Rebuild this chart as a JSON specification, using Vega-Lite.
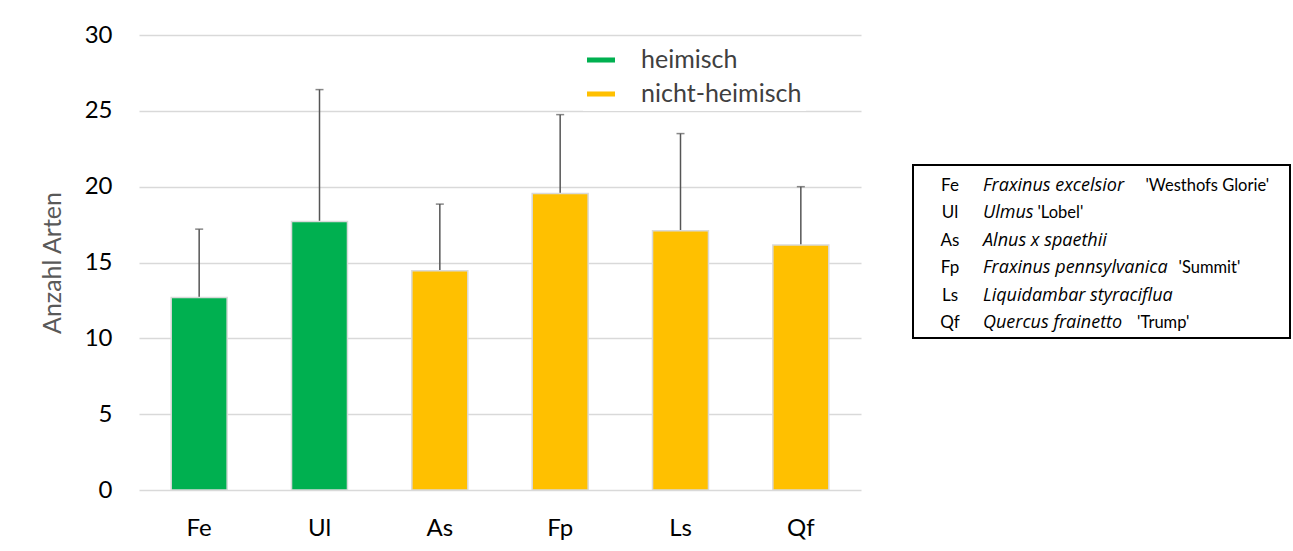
{
  "$schema": "https://vega.github.io/schema/vega-lite/v6.json",
  "padding": {"left": 40, "top": 23, "right": 0, "bottom": 0},
  "autosize": {"type": "pad"},
  "config": {"font": "Lato", "view": {"stroke": null}, "concat": {"spacing": 51}},
  "hconcat": [
    {
      "width": 722,
      "height": 455,
      "data": {"values": [
        {"abbr": "Fe", "value": 12.7, "upper": 17.2, "gruppe": "heimisch"},
        {"abbr": "Ul", "value": 17.7, "upper": 26.4, "gruppe": "heimisch"},
        {"abbr": "As", "value": 14.45, "upper": 18.85, "gruppe": "nicht-heimisch"},
        {"abbr": "Fp", "value": 19.55, "upper": 24.75, "gruppe": "nicht-heimisch"},
        {"abbr": "Ls", "value": 17.1, "upper": 23.5, "gruppe": "nicht-heimisch"},
        {"abbr": "Qf", "value": 16.15, "upper": 20.0, "gruppe": "nicht-heimisch"}
      ]},
      "encoding": {
        "x": {
          "field": "abbr", "type": "nominal", "sort": null,
          "scale": {"paddingInner": 0.535, "paddingOuter": 0.2675},
          "axis": {"title": null, "labelAngle": 0, "labelFontSize": 24, "labelColor": "#000000", "labelPadding": 26, "tickSize": 0, "domain": false, "ticks": false}
        }
      },
      "layer": [
        {
          "mark": {"type": "rule", "color": "#555555", "strokeWidth": 1.5},
          "encoding": {"y": {"field": "value", "type": "quantitative"}, "y2": {"field": "upper"}}
        },
        {
          "mark": {"type": "tick", "color": "#555555", "thickness": 1.5, "size": 8},
          "encoding": {"y": {"field": "upper", "type": "quantitative"}}
        },
        {
          "mark": {"type": "bar", "stroke": "#D9D9D9", "strokeWidth": 1.5},
          "encoding": {
            "y": {
              "field": "value", "type": "quantitative",
              "scale": {"domain": [0, 30]},
              "axis": {"title": "Anzahl Arten", "titleFontSize": 25, "titleColor": "#595959", "titleFontWeight": "normal", "titlePadding": 19,
                       "values": [0, 5, 10, 15, 20, 25, 30], "labelFontSize": 24, "labelColor": "#000000", "labelPadding": 27,
                       "tickSize": 0, "ticks": false, "domain": false, "grid": true, "gridColor": "#D9D9D9", "gridWidth": 1.3}
            },
            "color": {
              "field": "gruppe", "type": "nominal",
              "scale": {"domain": ["heimisch", "nicht-heimisch"], "range": ["#00B050", "#FFC000"]},
              "legend": {"title": null, "orient": "none", "legendX": 444, "legendY": 7, "symbolType": "M-1,-0.18H1V0.18H-1Z", "symbolStrokeWidth": 0, "symbolSize": 784,
                         "labelFontSize": 25, "labelColor": "#404040", "labelOffset": 26, "labelLimit": 400, "rowPadding": 7, "fillColor": "white", "padding": 4}
            }
          }
        }
      ]
    },
    {
      "spacing": 0,
      "vconcat": [
        {
          "width": 377,
          "height": 129,
          "data": {"values": [{}]},
          "mark": {"type": "text"},
          "encoding": {"text": {"value": ""}}
        },
        {
          "width": 377,
          "height": 173,
          "view": {"stroke": "#000000", "strokeWidth": 2},
          "data": {"values": [
            {"abbr": "Fe", "species": "Fraxinus excelsior", "cultivar": "'Westhofs Glorie'"},
            {"abbr": "Ul", "species": "Ulmus", "cultivar": "'Lobel'"},
            {"abbr": "As", "species": "Alnus x spaethii", "cultivar": ""},
            {"abbr": "Fp", "species": "Fraxinus pennsylvanica", "cultivar": "'Summit'"},
            {"abbr": "Ls", "species": "Liquidambar styraciflua", "cultivar": ""},
            {"abbr": "Qf", "species": "Quercus frainetto", "cultivar": "'Trump'"}
          ]},
          "encoding": {
            "y": {"field": "abbr", "type": "ordinal", "sort": null, "scale": {"type": "point", "padding": 0.65}, "axis": null}
          },
          "layer": [
            {
              "mark": {"type": "text", "align": "center", "baseline": "middle", "fontSize": 17, "color": "#000000", "dy": 3},
              "encoding": {
                "x": {"datum": "Kürzel", "type": "ordinal", "scale": {"type": "point", "padding": 0, "domain": ["Kürzel", "Name"], "range": [37, 70]}, "axis": null},
                "text": {"field": "abbr"}
              }
            },
            {
              "mark": {"type": "text", "align": "left", "baseline": "middle", "font": "Open Sans", "fontSize": 18, "fontStyle": "italic", "color": "#000000", "dy": 3},
              "encoding": {
                "x": {"datum": "Name", "type": "ordinal"},
                "text": {"field": "species"}
              }
            },
            {
              "mark": {"type": "text", "align": "left", "baseline": "middle", "fontSize": 16.5, "color": "#000000", "dy": 3, "dx": {"expr": "length(datum.species) * 8.3 + 13"}},
              "encoding": {
                "x": {"datum": "Name", "type": "ordinal"},
                "text": {"field": "cultivar"}
              }
            }
          ]
        }
      ]
    }
  ]
}
